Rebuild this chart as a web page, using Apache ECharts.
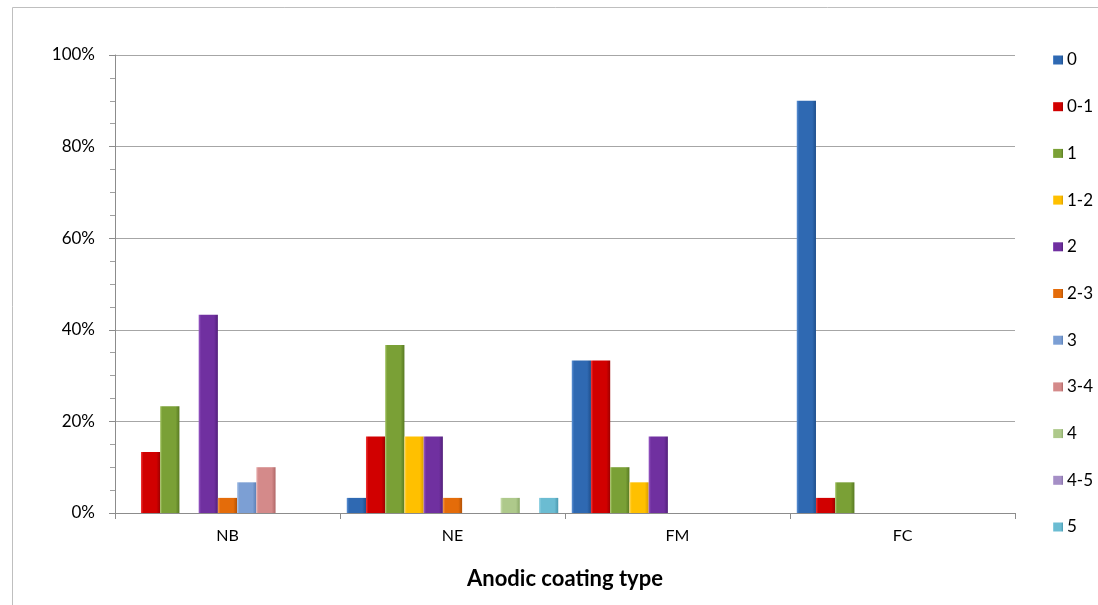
<!DOCTYPE html>
<html>
<head>
<meta charset="utf-8">
<title>Anodic coating type</title>
<script src="https://cdn.jsdelivr.net/npm/echarts@6/dist/echarts.min.js"></script>
<style>
  html, body { margin: 0; padding: 0; background: #ffffff; }
  #chart { width: 1098px; height: 605px; }
</style>
</head>
<body>
<div id="chart"></div>
<script>
// Coating types along the x axis
const categories = ['NB', 'NE', 'FM', 'FC'];

// Rating classes (one series each)
const seriesNames = ['0', '0-1', '1', '1-2', '2', '2-3', '3', '3-4', '4', '4-5', '5'];

// Share of samples (%) in each rating class, per coating type: NB, NE, FM, FC
const s0   = [0,    3.3,  33.3, 90];
const s0_1 = [13.3, 16.7, 33.3, 3.3];
const s1   = [23.3, 36.7, 10,   6.7];
const s1_2 = [0,    16.7, 6.7,  0];
const s2   = [43.3, 16.7, 16.7, 0];
const s2_3 = [3.3,  3.3,  0,    0];
const s3   = [6.7,  0,    0,    0];
const s3_4 = [10,   0,    0,    0];
const s4   = [0,    3.3,  0,    0];
const s4_5 = [0,    0,    0,    0];
const s5   = [0,    3.3,  0,    0];

const seriesValues = [s0, s0_1, s1, s1_2, s2, s2_3, s3, s3_4, s4, s4_5, s5];

// Tick labels on the value axis
const yTicks = [0, 20, 40, 60, 80, 100];

// Base colours of the rating classes: [light edge, body, dark edge]
const palette = [
  ['#5f93d6', '#2f69b2', '#1f4f8c'],
  ['#f03a3a', '#d10000', '#9e0000'],
  ['#9dbf5c', '#7aa036', '#587a22'],
  ['#ffd85a', '#ffc000', '#d89c00'],
  ['#9a5cc8', '#7030a0', '#52207a'],
  ['#f29a4e', '#e46c0a', '#b35206'],
  ['#a5c0e6', '#7c9fd4', '#5b7fb5'],
  ['#e8aeae', '#d48a8a', '#b06767'],
  ['#cde0b2', '#aec98b', '#8aa868'],
  ['#c6b6de', '#a58fc6', '#8470a6'],
  ['#9ad6e6', '#6bbcd2', '#4b9ab0']
];

function bevelFill(c) {
  return new echarts.graphic.LinearGradient(0, 0, 1, 0, [
    { offset: 0, color: c[0] },
    { offset: 0.12, color: c[1] },
    { offset: 0.8, color: c[1] },
    { offset: 1, color: c[2] }
  ]);
}

const chart = echarts.init(document.getElementById('chart'), null, { renderer: 'canvas' });

const series = seriesNames.map((name, i) => ({
  name: name,
  type: 'bar',
  data: seriesValues[i],
  barGap: '0%',
  barCategoryGap: '6%',
  itemStyle: { color: bevelFill(palette[i]) },
  emphasis: { disabled: true }
}));

const option = {
  backgroundColor: '#ffffff',
  animation: false,
  textStyle: { fontFamily: 'Lato, sans-serif' },
  graphic: [{
    type: 'rect',
    shape: { x: 12.5, y: 7.5, width: 1200, height: 700 },
    style: { fill: 'none', stroke: '#bfbfbf', lineWidth: 1 },
    silent: true,
    z: -1
  }],
  grid: { left: 115, right: 83, top: 55, bottom: 92, containLabel: false },
  legend: {
    orient: 'vertical',
    left: 1048,
    top: 46,
    itemWidth: 10,
    itemHeight: 9,
    itemGap: 28.7,
    icon: 'rect',
    data: seriesNames,
    textStyle: { fontFamily: 'Lato, sans-serif', fontSize: 17, color: '#000', lineHeight: 18, padding: [0, 0, 0, -1] },
    selectedMode: false
  },
  xAxis: {
    type: 'category',
    data: categories,
    name: 'Anodic coating type',
    nameLocation: 'middle',
    nameGap: 55,
    nameTextStyle: { fontFamily: 'Lato, sans-serif', fontSize: 22, fontWeight: 'bold', color: '#000' },
    axisLine: { lineStyle: { color: '#8c8c8c', width: 1 } },
    axisTick: { show: true, length: 6, lineStyle: { color: '#8c8c8c' } },
    axisLabel: { fontFamily: 'Lato, sans-serif', fontSize: 16, color: '#000', margin: 15 }
  },
  yAxis: {
    type: 'value',
    min: yTicks[0],
    max: yTicks[yTicks.length - 1],
    interval: 20,
    axisLine: { show: true, lineStyle: { color: '#8c8c8c', width: 1 } },
    axisTick: { show: true, length: 6, lineStyle: { color: '#8c8c8c' } },
    minorTick: { show: true, splitNumber: 4, length: 5, lineStyle: { color: '#a0a0a0' } },
    splitLine: { show: true, lineStyle: { color: '#a6a6a6', width: 1 } },
    axisLabel: { fontFamily: 'Lato, sans-serif', fontSize: 17, color: '#000', margin: 20, formatter: '{value}%' }
  },
  series: series
};

chart.setOption(option);
</script>
</body>
</html>
